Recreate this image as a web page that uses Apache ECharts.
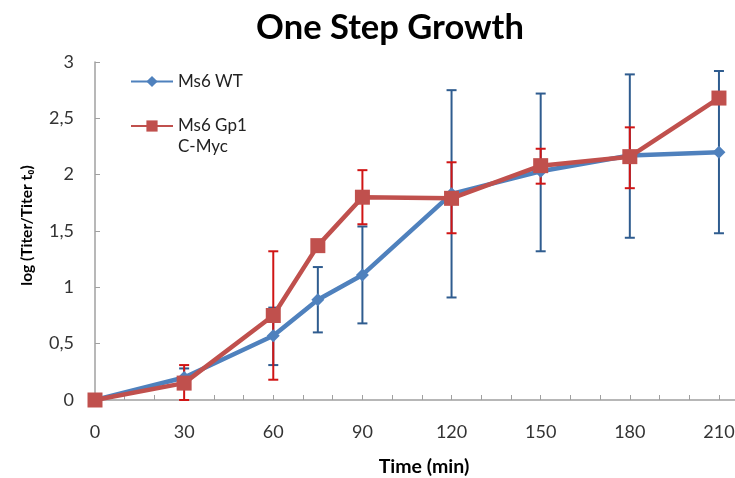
<!DOCTYPE html>
<html>
<head>
<meta charset="utf-8">
<script src="https://cdn.jsdelivr.net/npm/echarts@6/dist/echarts.min.js"></script>
<style>html,body{margin:0;padding:0;background:#fff}#c{width:735px;height:478px}</style>
</head>
<body>
<div id="c"></div>
<script>
const times = [0, 30, 60, 75, 90, 120, 150, 180, 210];
const wtMean = [0, 0.20, 0.57, 0.89, 1.11, 1.83, 2.03, 2.17, 2.20];
const wtLow  = [null, 0.13, 0.31, 0.60, 0.68, 0.91, 1.32, 1.44, 1.48];
const wtHigh = [null, 0.28, 0.82, 1.18, 1.54, 2.75, 2.72, 2.89, 2.92];
const gpMean = [0, 0.15, 0.75, 1.37, 1.80, 1.79, 2.08, 2.16, 2.68];
const gpLow  = [null, 0.00, 0.18, null, 1.56, 1.48, 1.92, 1.88, null];
const gpHigh = [null, 0.31, 1.32, null, 2.04, 2.11, 2.23, 2.42, null];
const xLabelTicks = [0, 30, 60, 90, 120, 150, 180, 210];
const xMinorTicks = [0,10,20,30,40,50,60,70,80,90,100,110,120,130,140,150,160,170,180,190,200,210];
const yTicks = [0, 0.5, 1, 1.5, 2, 2.5, 3];
const WT_NAME = 'Ms6 WT';
const GP_NAME = 'Ms6 Gp1\nC-Myc';

const FONT = 'Lato';
const pts = (m) => times.map((t, i) => [t, m[i]]);
const errData = (lo, hi) => times.map((t, i) => [t, lo[i], hi[i]]).filter(d => d[1] != null);

function errSeries(lo, hi, color) {
  return {
    type: 'custom',
    z: 1,
    silent: true,
    data: errData(lo, hi),
    renderItem: function (params, api) {
      const x = api.value(0);
      const pLo = api.coord([x, api.value(1)]);
      const pHi = api.coord([x, api.value(2)]);
      const w = 5;
      const st = { stroke: color, lineWidth: 2 };
      return {
        type: 'group',
        children: [
          { type: 'line', shape: { x1: pLo[0], y1: pLo[1], x2: pHi[0], y2: pHi[1] }, style: st },
          { type: 'line', shape: { x1: pLo[0] - w, y1: pLo[1], x2: pLo[0] + w, y2: pLo[1] }, style: st },
          { type: 'line', shape: { x1: pHi[0] - w, y1: pHi[1], x2: pHi[0] + w, y2: pHi[1] }, style: st }
        ]
      };
    }
  };
}

const legendText = { fontFamily: FONT, fontSize: 17, color: '#222', lineHeight: 21 };
const chart = echarts.init(document.getElementById('c'), null, { renderer: 'canvas' });
chart.setOption({
  animation: false,
  textStyle: { fontFamily: FONT },
  title: {
    text: 'One Step Growth',
    left: 385, top: 5, textAlign: 'center',
    textStyle: { fontFamily: FONT, fontWeight: 'bold', fontSize: 34.5, color: '#000' }
  },
  legend: [
    {
      orient: 'vertical', left: 125, top: 66,
      itemWidth: 42, itemHeight: 14,
      textStyle: legendText,
      data: [WT_NAME]
    },
    {
      orient: 'vertical', left: 125, top: 89.5,
      itemWidth: 42, itemHeight: 14,
      textStyle: legendText,
      formatter: name => ' \n' + name,
      data: [GP_NAME]
    }
  ],
  grid: { left: 95, right: 0, top: 62, bottom: 78, containLabel: false, outerBoundsMode: 'none' },
  xAxis: {
    type: 'value',
    min: 0, max: 215.4,
    name: 'Time (min)',
    nameLocation: 'middle',
    nameGap: 57,
    nameTextStyle: { fontFamily: FONT, fontWeight: 'bold', fontSize: 19.5, color: '#000', padding: [0, 0, 0, 18] },
    axisLine: { show: true, lineStyle: { color: '#a0a0a0', width: 1.5 } },
    axisTick: { show: true, inside: true, length: 5, customValues: xMinorTicks, lineStyle: { color: '#a0a0a0' } },
    axisLabel: { customValues: xLabelTicks, margin: 23, fontFamily: FONT, fontSize: 18, color: '#333' },
    splitLine: { show: false }
  },
  yAxis: {
    type: 'value',
    min: 0, max: 3, interval: 0.5,
    name: 'log (Titer/Titer t\u2080)',
    nameLocation: 'middle',
    nameGap: 60,
    nameRotate: 90,
    nameTextStyle: { fontFamily: FONT, fontWeight: 'bold', fontSize: 15.5, color: '#000', padding: [0, 0, 0, 11] },
    axisLine: { show: true, lineStyle: { color: '#a0a0a0', width: 1.5 } },
    axisTick: { show: true, inside: true, length: 5, lineStyle: { color: '#a0a0a0' } },
    axisLabel: {
      margin: 21, fontFamily: FONT, fontSize: 18, color: '#333',
      formatter: v => String(v).replace('.', ',')
    },
    splitLine: { show: false }
  },
  series: [
    errSeries(wtLow, wtHigh, '#2F5C8F'),
    errSeries(gpLow, gpHigh, '#D01515'),
    {
      name: WT_NAME, type: 'line', z: 3,
      data: pts(wtMean),
      symbol: 'diamond', symbolSize: [13, 13],
      lineStyle: { color: '#4F81BD', width: 4.5 },
      itemStyle: { color: '#4F81BD' }
    },
    {
      name: GP_NAME, type: 'line', z: 4,
      data: pts(gpMean),
      symbol: 'rect', symbolSize: 15,
      lineStyle: { color: '#C0504D', width: 4.5 },
      itemStyle: { color: '#C0504D' }
    }
  ]
});
</script>
</body>
</html>
